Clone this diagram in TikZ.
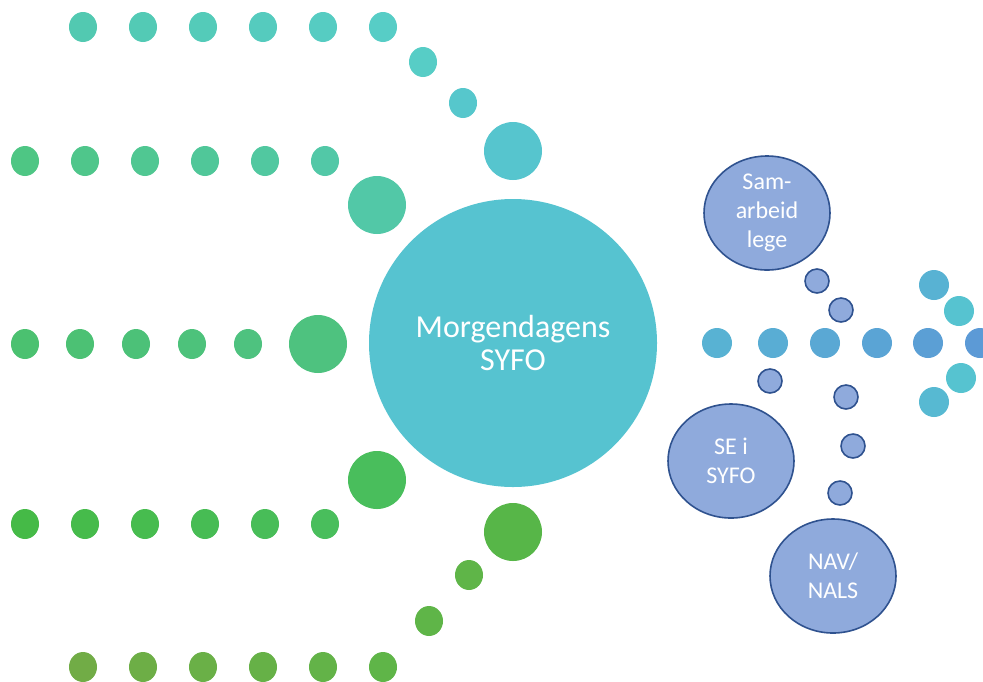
\documentclass[tikz,border=0pt]{standalone}
\usepackage{fontspec}
\setmainfont{Carlito}
\usetikzlibrary{shapes.geometric}

\definecolor{hubcol}{HTML}{56C3D0}
\definecolor{rowAl}{HTML}{52C9B1}
\definecolor{rowAr}{HTML}{57CDC6}
\definecolor{rowBl}{HTML}{4EC684}
\definecolor{rowBr}{HTML}{52C8A7}
\definecolor{rowCl}{HTML}{4BC170}
\definecolor{rowCr}{HTML}{4EC27F}
\definecolor{rowDl}{HTML}{45BA47}
\definecolor{rowDr}{HTML}{49BE5C}
\definecolor{rowEl}{HTML}{71AC46}
\definecolor{rowEr}{HTML}{5FB548}
\definecolor{flowl}{HTML}{58B2D3}
\definecolor{flowr}{HTML}{5C9AD6}
\definecolor{partfill}{HTML}{8FAADC}
\definecolor{partline}{HTML}{2F528F}

\tikzset{
  dot/.style={ellipse,inner sep=0pt,minimum width=14pt,minimum height=15pt},
  bigdot/.style={circle,inner sep=0pt,minimum size=29pt},
  partner/.style={ellipse,draw=partline,thick,fill=partfill,text=white,
    minimum width=63pt,minimum height=57pt,inner sep=0pt,align=center,
    font=\fontsize{12}{14.4}\selectfont},
  link/.style={circle,draw=partline,thick,fill=partfill,inner sep=0pt,minimum size=12pt}
}

\begin{document}
\begin{tikzpicture}[x=0.5pt,y=-0.5pt]
	\useasboundingbox (0,0) rectangle (983,681);
	
	% hub
	\node[circle,fill=hubcol,inner sep=0pt,minimum size=144pt,text=white,align=center,
	  font=\fontsize{16}{16.5}\selectfont] (hub) at (513,343) {Morgendagens\\SYFO};
	
	% rows of dots coming in from the left
	\begin{scope}[every node/.style={dot}]
	\foreach \x [count=\i] in {83,143,203,263,323,383}{
		\pgfmathtruncatemacro\p{120-20*\i}
		\node[fill=rowAl!\p!rowAr] (a\i) at (\x,27) {};
		\node[fill=rowEl!\p!rowEr] (e\i) at (\x,667) {};
	}
	\foreach \x [count=\i] in {25,85,145,205,265,325}{
		\pgfmathtruncatemacro\p{120-20*\i}
		\node[fill=rowBl!\p!rowBr] (b\i) at (\x,161) {};
		\node[fill=rowDl!\p!rowDr] (d\i) at (\x,524) {};
	}
	\foreach \x [count=\i] in {25,80,136,192,248}{
		\pgfmathtruncatemacro\p{125-25*\i}
		\node[fill=rowCl!\p!rowCr] (c\i) at (\x,344) {};
	}
	\node[fill=rowAr] (a7) at (423,62) {};
	\node[fill=hubcol!60!rowAr] (a8) at (463,103) {};
	\node[fill=rowEr] (e7) at (429,621) {};
	\node[fill=rowEr] (e8) at (469,575) {};
	\end{scope}
	
	\node[bigdot,fill=hubcol!80!rowAr] (a9) at (513,151) {};
	\node[bigdot,fill=rowBr] (b7) at (377,205) {};
	\node[bigdot,fill=rowCr] (c6) at (318,344) {};
	\node[bigdot,fill=rowDr] (d7) at (377,480) {};
	\node[bigdot,fill=rowEr!70!rowDl] (e9) at (513,532) {};
	
	% partners on the right
	\node[partner] (lege) at (767,213) {Sam-\\arbeid\\lege};
	\node[partner] (se) at (731,461) {SE i\\SYFO};
	\node[partner] (nav) at (833,576) {NAV/\\NALS};
	
	\node[link] (l1) at (817,281) {};
	\node[link] (l2) at (841,310) {};
	\node[link] (l3) at (770,381) {};
	\node[link] (l4) at (846,397) {};
	\node[link] (l5) at (853,446) {};
	\node[link] (l6) at (840,493) {};
	
	% arrow of dots going out
	\begin{scope}[every node/.style={circle,inner sep=0pt,minimum size=15pt}]
	\foreach \x [count=\i] in {717,773,825,877,928,980}{
		\pgfmathtruncatemacro\p{120-20*\i}
		\node[fill=flowl!\p!flowr] (f\i) at (\x,343) {};
	}
	\node[fill=flowl] (t1) at (934,285) {};
	\node[fill=hubcol] (t2) at (959,311) {};
	\node[fill=hubcol] (t3) at (961,378) {};
	\node[fill=flowl!60!hubcol] (t4) at (934,402) {};
	\end{scope}
\end{tikzpicture}
\end{document}
